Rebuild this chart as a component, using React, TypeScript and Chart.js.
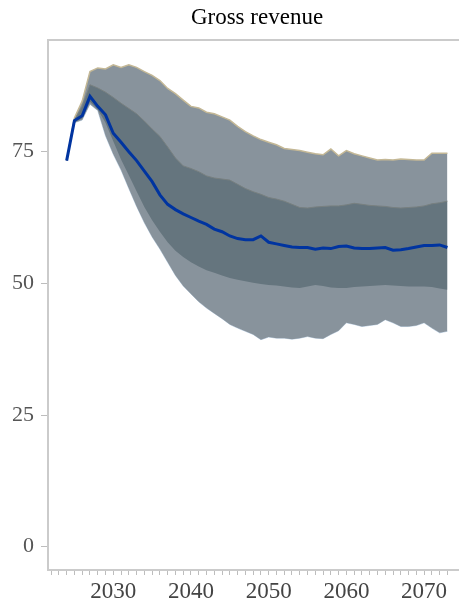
import { useEffect, useRef } from 'react';
import { Chart, registerables } from 'chart.js';

Chart.register(...registerables);

const years = [
  2024, 2025, 2026, 2027, 2028, 2029, 2030, 2031, 2032, 2033,
  2034, 2035, 2036, 2037, 2038, 2039, 2040, 2041, 2042, 2043,
  2044, 2045, 2046, 2047, 2048, 2049, 2050, 2051, 2052, 2053,
  2054, 2055, 2056, 2057, 2058, 2059, 2060, 2061, 2062, 2063,
  2064, 2065, 2066, 2067, 2068, 2069, 2070, 2071, 2072, 2073,
];

const median = [
  73.3, 80.9, 81.8, 85.5, 83.6, 82.0, 78.5, 76.8, 75.0, 73.3,
  71.3, 69.3, 66.8, 65.0, 64.0, 63.2, 62.5, 61.8, 61.2, 60.3,
  59.8, 59.0, 58.5, 58.3, 58.3, 59.0, 57.8, 57.5, 57.2, 56.9,
  56.8, 56.8, 56.5, 56.7, 56.6, 57.0, 57.1, 56.7, 56.6, 56.6,
  56.7, 56.8, 56.3, 56.4, 56.6, 56.9, 57.2, 57.2, 57.3, 56.8,
];

const outerHigh = [
  73.3, 81.4, 84.6, 90.2, 90.9, 90.7, 91.5, 91.0, 91.5, 91.0,
  90.2, 89.5, 88.5, 87.0, 86.0, 84.8, 83.6, 83.3, 82.5, 82.2,
  81.6, 81.0, 79.8, 78.8, 78.0, 77.3, 76.8, 76.3, 75.6, 75.4,
  75.2, 74.9, 74.6, 74.4, 75.5, 74.2, 75.2, 74.6, 74.2, 73.8,
  73.4, 73.5, 73.4, 73.6, 73.5, 73.4, 73.4, 74.7, 74.7, 74.7,
];

const outerLow = [
  73.3, 80.5, 81.0, 84.0, 82.8, 78.0, 74.5, 71.5, 68.0, 64.6,
  61.5, 58.8, 56.5, 54.0, 51.5, 49.5, 48.0, 46.5, 45.3, 44.3,
  43.3, 42.2, 41.5, 40.9, 40.3, 39.3, 39.8, 39.6, 39.6, 39.4,
  39.6, 39.9, 39.6, 39.5, 40.3, 41.0, 42.5, 42.2, 41.8, 42.0,
  42.2, 43.1, 42.5, 41.8, 41.8, 42.0, 42.5, 41.5, 40.6, 40.9,
];

const innerHigh = [
  73.3, 81.0, 83.6, 87.7, 87.1, 86.3, 85.3, 84.2, 83.2, 82.2,
  80.8, 79.3, 77.9, 75.9, 73.8, 72.3, 71.8, 71.2, 70.4, 70.0,
  69.8, 69.6, 68.8, 68.0, 67.4, 66.9, 66.3, 66.0, 65.6, 65.0,
  64.4, 64.3, 64.5, 64.6, 64.7, 64.7, 64.9, 65.2, 65.0, 64.8,
  64.7, 64.6, 64.4, 64.3, 64.4, 64.5, 64.7, 65.1, 65.3, 65.6,
];

const innerLow = [
  73.3, 80.6, 81.3, 84.5, 83.0, 80.5, 77.0, 73.5, 70.5, 67.5,
  64.5, 62.0, 59.8, 57.8, 56.2, 55.0, 54.0, 53.2, 52.5, 52.0,
  51.5, 51.0, 50.7, 50.4, 50.1, 49.9, 49.7, 49.6, 49.4, 49.2,
  49.1, 49.4, 49.7, 49.5, 49.2, 49.1, 49.1, 49.3, 49.4, 49.5,
  49.6, 49.7, 49.6, 49.5, 49.4, 49.4, 49.4, 49.3, 49.0, 48.8,
];

const xTickYears = [
  2022, 2023, 2024, 2025, 2026, 2027, 2028, 2029, 2030, 2031,
  2032, 2033, 2034, 2035, 2036, 2037, 2038, 2039, 2040, 2041,
  2042, 2043, 2044, 2045, 2046, 2047, 2048, 2049, 2050, 2051,
  2052, 2053, 2054, 2055, 2056, 2057, 2058, 2059, 2060, 2061,
  2062, 2063, 2064, 2065, 2066, 2067, 2068, 2069, 2070, 2071,
  2072, 2073,
];
const xLabelYears = [2030, 2040, 2050, 2060, 2070];
const yTicks = [0, 25, 50, 75];

const titleText = 'Gross revenue';

const SERIF = "'Liberation Serif', 'Times New Roman', Times, serif";
const AXIS_GREY = '#cbcbcb';
const OUTER_FILL = 'rgb(136,147,156)';
const INNER_FILL = 'rgb(101,117,126)';
const MEDIAN_BLUE = 'rgb(0,52,160)';

const toPoints = (vals: number[]) => years.map((yr, i) => ({ x: yr, y: vals[i] }));

const topBorder = {
  id: 'topBorder',
  afterDraw(chart: any) {
    const { ctx, chartArea } = chart;
    ctx.save();
    ctx.strokeStyle = AXIS_GREY;
    ctx.lineWidth = 2;
    ctx.beginPath();
    ctx.moveTo(chartArea.left - 1, chartArea.top);
    ctx.lineTo(chartArea.right, chartArea.top);
    ctx.stroke();
    ctx.restore();
  },
};

export default function App() {
  const ref = useRef<HTMLCanvasElement | null>(null);

  useEffect(() => {
    if (!ref.current) return;
    const chart = new Chart(ref.current, {
      type: 'line',
      data: {
        datasets: [
          {
            label: 'outerLow',
            data: toPoints(outerLow),
            borderColor: 'rgba(190,210,230,0.9)',
            borderWidth: 1,
            pointRadius: 0,
            fill: false,
            order: 4,
          },
          {
            label: 'outerHigh',
            data: toPoints(outerHigh),
            borderColor: 'rgb(196,184,150)',
            borderWidth: 1.5,
            backgroundColor: OUTER_FILL,
            pointRadius: 0,
            fill: 0,
            order: 3,
          },
          {
            label: 'innerLow',
            data: toPoints(innerLow),
            borderColor: INNER_FILL,
            borderWidth: 0,
            pointRadius: 0,
            fill: false,
            order: 2,
          },
          {
            label: 'innerHigh',
            data: toPoints(innerHigh),
            borderColor: 'rgb(120,128,128)',
            borderWidth: 1,
            backgroundColor: INNER_FILL,
            pointRadius: 0,
            fill: 2,
            order: 1,
          },
          {
            label: 'median',
            data: toPoints(median),
            borderColor: MEDIAN_BLUE,
            borderWidth: 3,
            pointRadius: 0,
            fill: false,
            order: 0,
          },
        ],
      },
      options: {
        responsive: false,
        maintainAspectRatio: false,
        animation: false,
        devicePixelRatio: 1,
        layout: { padding: 0 },
        plugins: {
          legend: { display: false },
          tooltip: { enabled: false },
          title: {
            display: true,
            text: titleText,
            color: '#000',
            font: { family: SERIF, size: 23, weight: 'normal' },
            padding: { top: 4, bottom: 8.4 },
          },
        },
        scales: {
          x: {
            type: 'linear',
            min: 2021.6,
            max: 2081.57,
            afterFit: (s: any) => {
              s.height = 31;
            },
            afterBuildTicks: (s: any) => {
              s.ticks = xTickYears.map((v) => ({ value: v }));
            },
            ticks: {
              autoSkip: false,
              maxRotation: 0,
              padding: 3,
              color: '#444',
              font: { family: SERIF, size: 23 },
              callback: (v: any) => (xLabelYears.includes(Number(v)) ? String(v) : ''),
            },
            grid: {
              drawOnChartArea: false,
              drawTicks: true,
              tickLength: 5,
              color: '#bdbdbd',
              lineWidth: 1,
            },
            border: { color: AXIS_GREY, width: 2 },
          },
          y: {
            type: 'linear',
            min: -4.42,
            max: 96.2,
            afterFit: (s: any) => {
              s.width = 48;
            },
            afterBuildTicks: (s: any) => {
              s.ticks = yTicks.map((v) => ({ value: v }));
            },
            ticks: {
              padding: 7,
              color: '#555',
              font: { family: SERIF, size: 22 },
              callback: (v: any) => String(v),
            },
            grid: {
              drawOnChartArea: false,
              drawTicks: true,
              tickLength: 7,
              color: '#bdbdbd',
              lineWidth: 1,
            },
            border: { color: AXIS_GREY, width: 2 },
          },
        },
      },
      plugins: [topBorder],
    });
    return () => chart.destroy();
  }, []);

  return (
    <div
      style={{
        position: 'fixed',
        left: 0,
        top: 0,
        width: 459,
        height: 601,
        overflow: 'hidden',
        background: '#fff',
      }}
    >
      <canvas ref={ref} width={514} height={601} style={{ display: 'block' }} />
    </div>
  );
}
